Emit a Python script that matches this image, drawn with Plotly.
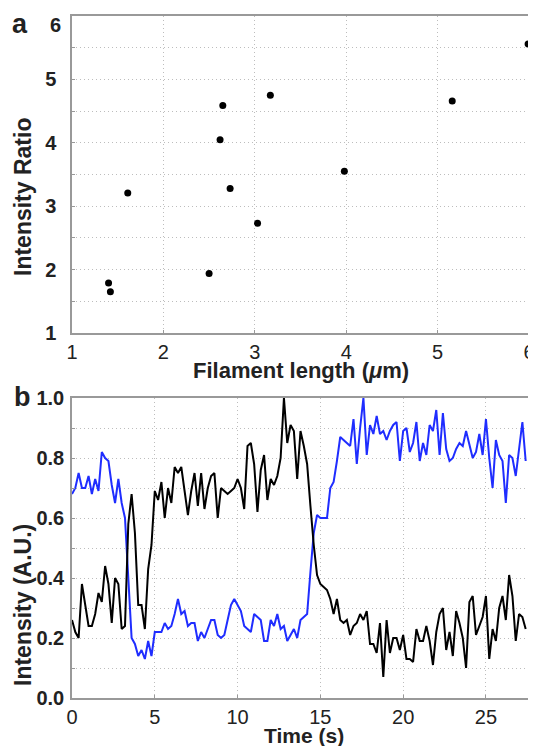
import numpy as np
import plotly.graph_objects as go
from plotly.subplots import make_subplots

# ---- Panel a data ----
filament_length = [1.40, 1.42, 1.61, 2.50, 2.62, 2.65, 2.73, 3.03, 3.17, 3.98, 5.16, 5.99]
intensity_ratio = [1.79, 1.65, 3.21, 1.94, 4.05, 4.59, 3.28, 2.73, 4.75, 3.55, 4.66, 5.56]

# ---- Panel b data (sampled every 0.2 s) ----
dt = 0.2
black_trace = [
    0.26, 0.22, 0.20, 0.38, 0.31, 0.24, 0.24, 0.28, 0.35, 0.32, 0.44, 0.38, 0.25,
    0.40, 0.38, 0.23, 0.24, 0.58, 0.68, 0.55, 0.31, 0.31, 0.23, 0.43, 0.51, 0.69,
    0.66, 0.72, 0.60, 0.70, 0.65, 0.77, 0.75, 0.77, 0.69, 0.61, 0.69, 0.75, 0.64,
    0.75, 0.63, 0.70, 0.74, 0.75, 0.60, 0.70, 0.69, 0.68, 0.69, 0.70, 0.73, 0.70,
    0.63, 0.84,
    0.85, 0.78, 0.62, 0.76, 0.81, 0.66, 0.73, 0.71, 0.74, 0.80, 1.00, 0.85, 0.91,
    0.89, 0.73, 0.89, 0.84, 0.78, 0.64, 0.51, 0.41, 0.38, 0.37, 0.36, 0.33, 0.28,
    0.33, 0.26, 0.25,
    0.26, 0.21, 0.24, 0.25, 0.28, 0.26, 0.29, 0.18, 0.18, 0.15, 0.25, 0.07, 0.26,
    0.15, 0.20, 0.20, 0.16, 0.21, 0.13, 0.13, 0.12, 0.23, 0.19, 0.19, 0.24, 0.19,
    0.11,
    0.22, 0.28, 0.30, 0.16, 0.22, 0.14, 0.29, 0.25, 0.20, 0.10, 0.32, 0.34, 0.21,
    0.24, 0.27, 0.34, 0.13, 0.23, 0.19, 0.30, 0.34, 0.26, 0.41, 0.34, 0.19, 0.28,
    0.27, 0.23,
]
blue_trace = [
    0.68, 0.70, 0.75, 0.70, 0.70, 0.74, 0.68, 0.73, 0.69, 0.82, 0.80, 0.79, 0.71,
    0.65, 0.73, 0.65, 0.60, 0.41, 0.20, 0.18, 0.14, 0.16, 0.13, 0.19, 0.14, 0.22,
    0.22, 0.22, 0.25, 0.23, 0.24, 0.28, 0.33, 0.28, 0.29, 0.24, 0.25, 0.25, 0.19,
    0.22, 0.20, 0.23, 0.26, 0.26, 0.21, 0.20, 0.21, 0.26, 0.31, 0.33, 0.31, 0.29,
    0.24, 0.23,
    0.22, 0.28, 0.27, 0.26, 0.19, 0.19, 0.26, 0.24, 0.28, 0.23, 0.24, 0.19, 0.21,
    0.23, 0.20, 0.26, 0.27, 0.28, 0.42, 0.55, 0.61, 0.60, 0.60, 0.60, 0.70, 0.72,
    0.79, 0.87, 0.86,
    0.85, 0.84, 0.93, 0.78, 0.90, 1.00, 0.81, 0.91, 0.88, 0.94, 0.88, 0.89, 0.86,
    0.89, 0.91, 0.92, 0.79, 0.89, 0.90, 0.82, 0.85, 0.92, 0.79, 0.85, 0.81, 0.91,
    0.89,
    0.96, 0.81, 0.95, 0.83, 0.79, 0.80, 0.83, 0.85, 0.84, 0.89, 0.84, 0.80, 0.82,
    0.88, 0.81, 0.93, 0.80, 0.70, 0.86, 0.81, 0.79, 0.65, 0.81, 0.80, 0.74, 0.83,
    0.92, 0.79,
]
time_s = np.arange(len(black_trace)) * dt

a_xticks = [1, 2, 3, 4, 5, 6]
a_yticks = [1, 1.5, 2, 2.5, 3, 3.5, 4, 4.5, 5, 5.5, 6]
a_ytext = ["1", "", "2", "", "3", "", "4", "", "5", "", ""]  # "6" drawn below as a label
b_xticks = [0, 5, 10, 15, 20, 25]
b_yticks = [0, 0.1, 0.2, 0.3, 0.4, 0.5, 0.6, 0.7, 0.8, 0.9, 1.0]
b_ytext = ["0.0", "", "0.2", "", "0.4", "", "0.6", "", "0.8", "", "1.0"]

# The page body adds an 8 px offset, so the figure is 8 px smaller and all
# screen positions below are shifted by OFF.
OFF = 8
W, H = 536 - OFF, 746 - OFF
ml, mr, mt, mb = 72 - OFF, 7, 16 - OFF, 48
pw = W - ml - mr
ph = H - mt - mb
a_bottom = (698 - 333) / ph
b_top = (698 - 398) / ph


def px(sx):
    return (sx - OFF - ml) / pw


def py(sy):
    return (H - mb - (sy - OFF)) / ph


fig = make_subplots(rows=2, cols=1)

fig.add_trace(go.Scatter(x=filament_length, y=intensity_ratio, mode="markers",
                         marker=dict(color="black", size=7), cliponaxis=False,
                         showlegend=False), row=1, col=1)
fig.add_trace(go.Scatter(x=time_s, y=blue_trace, mode="lines",
                         line=dict(color="#1f2dff", width=2), showlegend=False),
              row=2, col=1)
fig.add_trace(go.Scatter(x=time_s, y=black_trace, mode="lines",
                         line=dict(color="black", width=2), showlegend=False),
              row=2, col=1)

font_family = "Liberation Sans, Arial, sans-serif"
tick_font = dict(family=font_family, size=20, color="#222")
axis_common = dict(showline=True, linecolor="#999", linewidth=1.5, ticks="inside",
                   ticklen=3, tickcolor="#999", showgrid=True, gridcolor="#bdbdbd",
                   griddash="1px,3px", gridwidth=1, zeroline=False, tickfont=tick_font,
                   automargin=False)

fig.update_xaxes(**axis_common, mirror=True)
fig.update_yaxes(**axis_common, mirror=False)

fig.update_layout(
    xaxis=dict(domain=[0, 1], range=[1, 6], tickmode="array", tickvals=a_xticks,
               tickprefix="<b>", ticksuffix="</b>", ticklabelstandoff=0),
    yaxis=dict(domain=[a_bottom, 1], range=[1, 6], tickmode="array", tickvals=a_yticks,
               ticktext=["<b>%s</b>" % t if t else "" for t in a_ytext],
               ticklabelstandoff=10),
    xaxis2=dict(domain=[0, 1], range=[0, 27.6], tickmode="array", tickvals=b_xticks,
                tickprefix="<b>", ticksuffix="</b>", ticklabelstandoff=0),
    yaxis2=dict(domain=[0, b_top], range=[0, 1.0], tickmode="array", tickvals=b_yticks,
                ticktext=["<b>%s</b>" % t if t else "" for t in b_ytext],
                ticklabelstandoff=2),
    width=W, height=H,
    margin=dict(l=ml, r=mr, t=mt, b=mb),
    paper_bgcolor="white", plot_bgcolor="white",
    font=dict(family=font_family, color="#222"),
)

# (text, screen x, screen y, angle, size)
labels = [
    ("a", 20, 24, 0, 27),
    ("b", 22, 397, 0, 27),
    ("6", 55, 25, 0, 20),
    ("Filament length (<i>μ</i>m)", 301, 370, 0, 22),
    ("Time (s)", 304, 735, 0, 21),
    ("Intensity Ratio", 23, 197, -90, 23),
    ("Intensity (A.U.)", 23, 605, -90, 23),
]
anns = []
for txt, sx, sy, ang, sz in labels:
    anns.append(dict(text="<b>%s</b>" % txt, x=px(sx), y=py(sy),
                     xref="paper", yref="paper", textangle=ang,
                     xanchor="center", yanchor="middle", showarrow=False,
                     font=dict(family=font_family, size=sz, color="#222")))
fig.update_layout(annotations=anns)

fig.write_html("out.html")
